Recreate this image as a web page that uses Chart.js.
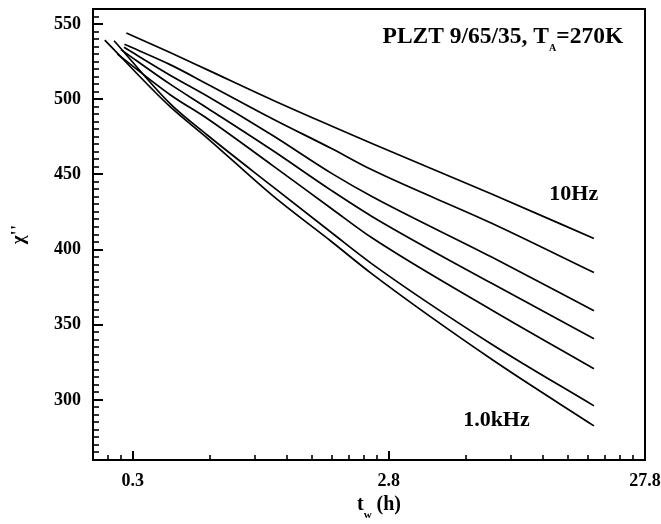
<!DOCTYPE html>
<html>
<head>
<meta charset="utf-8">
<script src="https://cdn.jsdelivr.net/npm/chart.js@4.4.1/dist/chart.umd.min.js"></script>
<style>
  html, body { margin: 0; padding: 0; background: #fff; }
  canvas { display: block; }
</style>
</head>
<body>
<canvas id="chi-chart" width="661" height="524"></canvas>
<script>
const SERIF = "'Liberation Serif', 'Times New Roman', serif";

// x is the waiting time on a log axis, one decade per labelled tick
const xTickValues = [1, 10, 100];
const xTickLabels = ['0.3', '2.8', '27.8'];
const xMinorValues = [0.8, 0.9, 2, 3, 4, 5, 6, 7, 8, 9, 20, 30, 40, 50, 60, 70, 80, 90];
const yTickValues = [300, 350, 400, 450, 500, 550];

// each curve starts at its own time, then shares the sample times
const startTimes = [0.945, 0.929, 0.925, 0.9, 0.872, 0.846, 0.778];
const startValues = [544, 536.5, 534.5, 533, 530, 538.9, 539.3];
const sampleTimes = [1.4, 1.96, 3.51, 6.0, 8.59, 25.2, 63.2];

const chi10Hz = [531, 519.5, 499.5, 482, 470.5, 437, 407.3];
const chiLine2 = [523, 510, 487, 467, 453, 417.5, 384.7];
const chiLine3 = [516, 502, 476, 450.5, 435.3, 395, 359.3];
const chiLine4 = [510, 494, 466, 439, 422, 377.5, 340.7];
const chiLine5 = [503, 487, 456, 427, 407.8, 359.8, 320.7];
const chiLine6 = [497, 476, 442, 411, 390.5, 337, 296];
const chi1kHz = [495, 474, 436, 405, 383.8, 327, 282.7];

const seriesNames = ['10Hz', 'line 2', 'line 3', 'line 4', 'line 5', 'line 6', '1.0kHz'];
const seriesValues = [chi10Hz, chiLine2, chiLine3, chiLine4, chiLine5, chiLine6, chi1kHz];

const datasets = seriesValues.map((vals, i) => ({
  label: seriesNames[i],
  data: [{ x: startTimes[i], y: startValues[i] }].concat(
    vals.map((v, j) => ({ x: sampleTimes[j], y: v }))),
  borderColor: '#000',
  borderWidth: 1.7,
  pointRadius: 0,
  cubicInterpolationMode: 'monotone',
  fill: false,
}));

function drawRuns(ctx, x0, y0, runs) {
  let cx = x0;
  runs.forEach(([text, size, dy]) => {
    ctx.font = `bold ${size}px ${SERIF}`;
    ctx.fillText(text, cx, y0 + dy);
    cx += ctx.measureText(text).width;
  });
  return cx - x0;
}

function measureRuns(ctx, runs) {
  return runs.reduce((w, [text, size]) => {
    ctx.font = `bold ${size}px ${SERIF}`;
    return w + ctx.measureText(text).width;
  }, 0);
}

const annotate = {
  id: 'annotate',
  afterDraw(chart) {
    const { ctx, chartArea } = chart;
    const x = chart.scales.x;
    const y = chart.scales.y;
    ctx.save();
    ctx.fillStyle = '#000';
    ctx.textAlign = 'left';
    ctx.textBaseline = 'alphabetic';

    drawRuns(ctx, x.getPixelForValue(9.45), y.getPixelForValue(537.3), [
      ['PLZT 9/65/35, T', 23.5, 0], ['A', 10, 8], ['=270K', 23.5, 0]]);
    drawRuns(ctx, x.getPixelForValue(42.3), y.getPixelForValue(432.7), [['10Hz', 22, 0]]);
    drawRuns(ctx, x.getPixelForValue(19.5), y.getPixelForValue(282.7), [['1.0kHz', 22, 0]]);

    // x axis title, t with subscript w
    const runs = [['t', 20, 0], ['w', 11, 8], [' (h)', 20, 0]];
    const w = measureRuns(ctx, runs);
    const cx = (chartArea.left + chartArea.right) / 2 + 10;
    drawRuns(ctx, cx - w / 2, chartArea.bottom + 50, runs);
    ctx.restore();
  },
};

// frame on top/right plus inward tick marks on the left and bottom axes
const frame = {
  id: 'frame',
  afterDatasetsDraw(chart) {
    const { ctx, chartArea: a } = chart;
    const x = chart.scales.x;
    const y = chart.scales.y;
    ctx.save();
    ctx.strokeStyle = '#000';
    ctx.lineWidth = 2;
    ctx.beginPath();
    ctx.moveTo(a.left, a.top);
    ctx.lineTo(a.right, a.top);
    ctx.lineTo(a.right, a.bottom);
    ctx.stroke();

    const tick = (x1, y1, x2, y2, w) => {
      ctx.lineWidth = w;
      ctx.beginPath();
      ctx.moveTo(x1, y1);
      ctx.lineTo(x2, y2);
      ctx.stroke();
    };
    xTickValues.forEach(v => {
      const px = Math.round(x.getPixelForValue(v));
      tick(px, a.bottom, px, a.bottom - 9, 2);
    });
    xMinorValues.forEach(v => {
      const px = Math.round(x.getPixelForValue(v));
      tick(px, a.bottom, px, a.bottom - 5, 1.6);
    });
    for (let v = y.min + 5; v < y.max; v += 5) {
      const py = Math.round(y.getPixelForValue(v));
      const major = yTickValues.includes(v);
      tick(a.left, py, a.left + (major ? 10 : 6), py, major ? 2 : 1.6);
    }
    ctx.restore();
  },
};

const tickFont = { family: SERIF, size: 18, weight: 'bold' };

new Chart(document.getElementById('chi-chart'), {
  type: 'line',
  data: { datasets },
  options: {
    responsive: false,
    animation: false,
    layout: { padding: { top: 9, right: 16, left: 0, bottom: 0 } },
    plugins: { legend: { display: false }, tooltip: { enabled: false } },
    scales: {
      x: {
        type: 'logarithmic',
        position: 'bottom',
        min: 0.72,
        max: 100,
        afterBuildTicks: s => { s.ticks = xTickValues.map(v => ({ value: v })); },
        afterFit: s => { s.height = 64; s.paddingLeft = 0; s.paddingRight = 0; },
        ticks: {
          callback: v => xTickLabels[xTickValues.indexOf(v)] ?? '',
          font: tickFont, color: '#000', padding: 3,
          maxRotation: 0, autoSkip: false,
        },
        grid: { display: false },
        border: { color: '#000', width: 2 },
      },
      y: {
        type: 'linear',
        position: 'left',
        min: 260,
        max: 560,
        afterBuildTicks: s => { s.ticks = yTickValues.map(v => ({ value: v })); },
        afterFit: s => { s.width = 93; s.paddingTop = 0; s.paddingBottom = 0; },
        ticks: { font: tickFont, color: '#000', padding: 4 },
        title: {
          display: true, text: "\u03c7''", color: '#000',
          font: { family: SERIF, size: 19, weight: 'bold' },
          padding: { top: 8, bottom: 0 },
        },
        grid: { display: false },
        border: { color: '#000', width: 2 },
      },
    },
  },
  plugins: [annotate, frame],
});
</script>
</body>
</html>
